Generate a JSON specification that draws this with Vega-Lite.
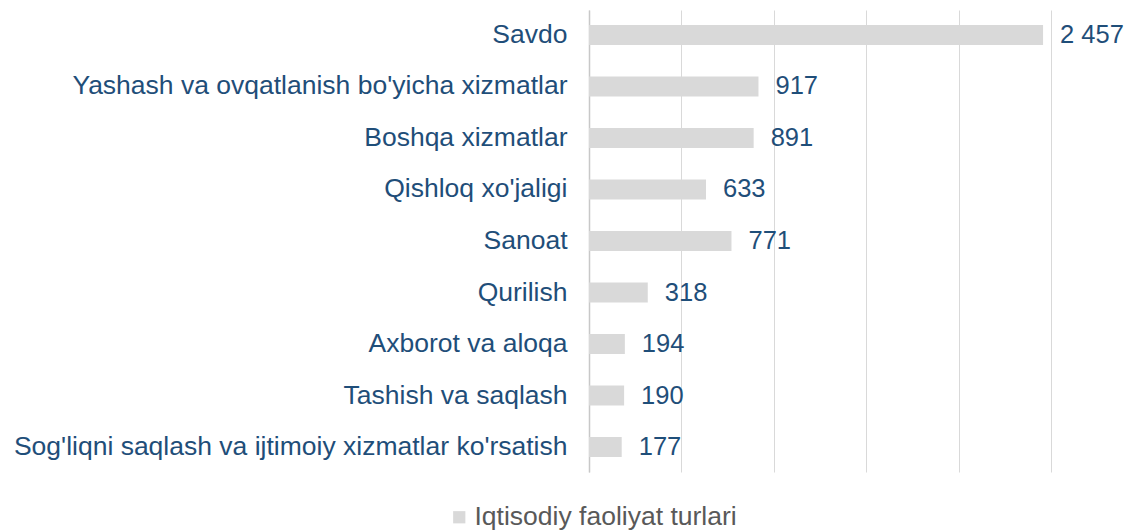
{
  "$schema": "https://vega.github.io/schema/vega-lite/v6.json",
  "width": 462,
  "height": 462,
  "autosize": {"type": "none"},
  "padding": {"left": 589, "top": 10, "right": 78, "bottom": 59},
  "background": "white",
  "config": {"view": {"stroke": null}, "font": "Liberation Sans"},
  "data": {"values": [
    {"category": "Savdo", "value": 2457, "label": "2 457", "series": "Iqtisodiy faoliyat turlari"},
    {"category": "Yashash va ovqatlanish bo'yicha xizmatlar", "value": 917, "label": "917", "series": "Iqtisodiy faoliyat turlari"},
    {"category": "Boshqa xizmatlar", "value": 891, "label": "891", "series": "Iqtisodiy faoliyat turlari"},
    {"category": "Qishloq xo'jaligi", "value": 633, "label": "633", "series": "Iqtisodiy faoliyat turlari"},
    {"category": "Sanoat", "value": 771, "label": "771", "series": "Iqtisodiy faoliyat turlari"},
    {"category": "Qurilish", "value": 318, "label": "318", "series": "Iqtisodiy faoliyat turlari"},
    {"category": "Axborot va aloqa", "value": 194, "label": "194", "series": "Iqtisodiy faoliyat turlari"},
    {"category": "Tashish va saqlash", "value": 190, "label": "190", "series": "Iqtisodiy faoliyat turlari"},
    {"category": "Sog'liqni saqlash va ijtimoiy xizmatlar ko'rsatish", "value": 177, "label": "177", "series": "Iqtisodiy faoliyat turlari"}
  ]},
  "encoding": {
    "y": {
      "field": "category", "type": "nominal", "sort": null, "title": null,
      "scale": {"paddingInner": 0.61, "paddingOuter": 0.29},
      "axis": {"ticks": false, "labelPadding": 22, "labelFontSize": 26.5, "labelColor": "#1F4E79", "labelLimit": 700, "domainColor": "#c8c8c8", "domainWidth": 1.5, "grid": false}
    },
    "x": {
      "field": "value", "type": "quantitative", "title": null,
      "scale": {"domain": [0, 2500], "nice": false},
      "axis": {"values": [0, 500, 1000, 1500, 2000, 2500], "labels": false, "ticks": false, "domain": false, "grid": true, "gridColor": "#d9d9d9", "gridWidth": 1}
    }
  },
  "layer": [
    {
      "mark": {"type": "bar", "color": "#d9d9d9"},
      "encoding": {
        "color": {"field": "series", "type": "nominal", "scale": {"range": ["#d9d9d9"]},
          "legend": {"title": null, "orient": "none", "legendX": -143, "legendY": 494, "symbolType": "square", "symbolSize": 150, "labelFontSize": 26.5, "labelColor": "#595959", "labelLimit": 600, "symbolStrokeWidth": 0, "labelOffset": 2}}
      }
    },
    {
      "mark": {"type": "text", "align": "left", "baseline": "middle", "dx": 17, "fontSize": 25.5, "color": "#1F4E79"},
      "encoding": {"text": {"field": "label"}}
    }
  ]
}
